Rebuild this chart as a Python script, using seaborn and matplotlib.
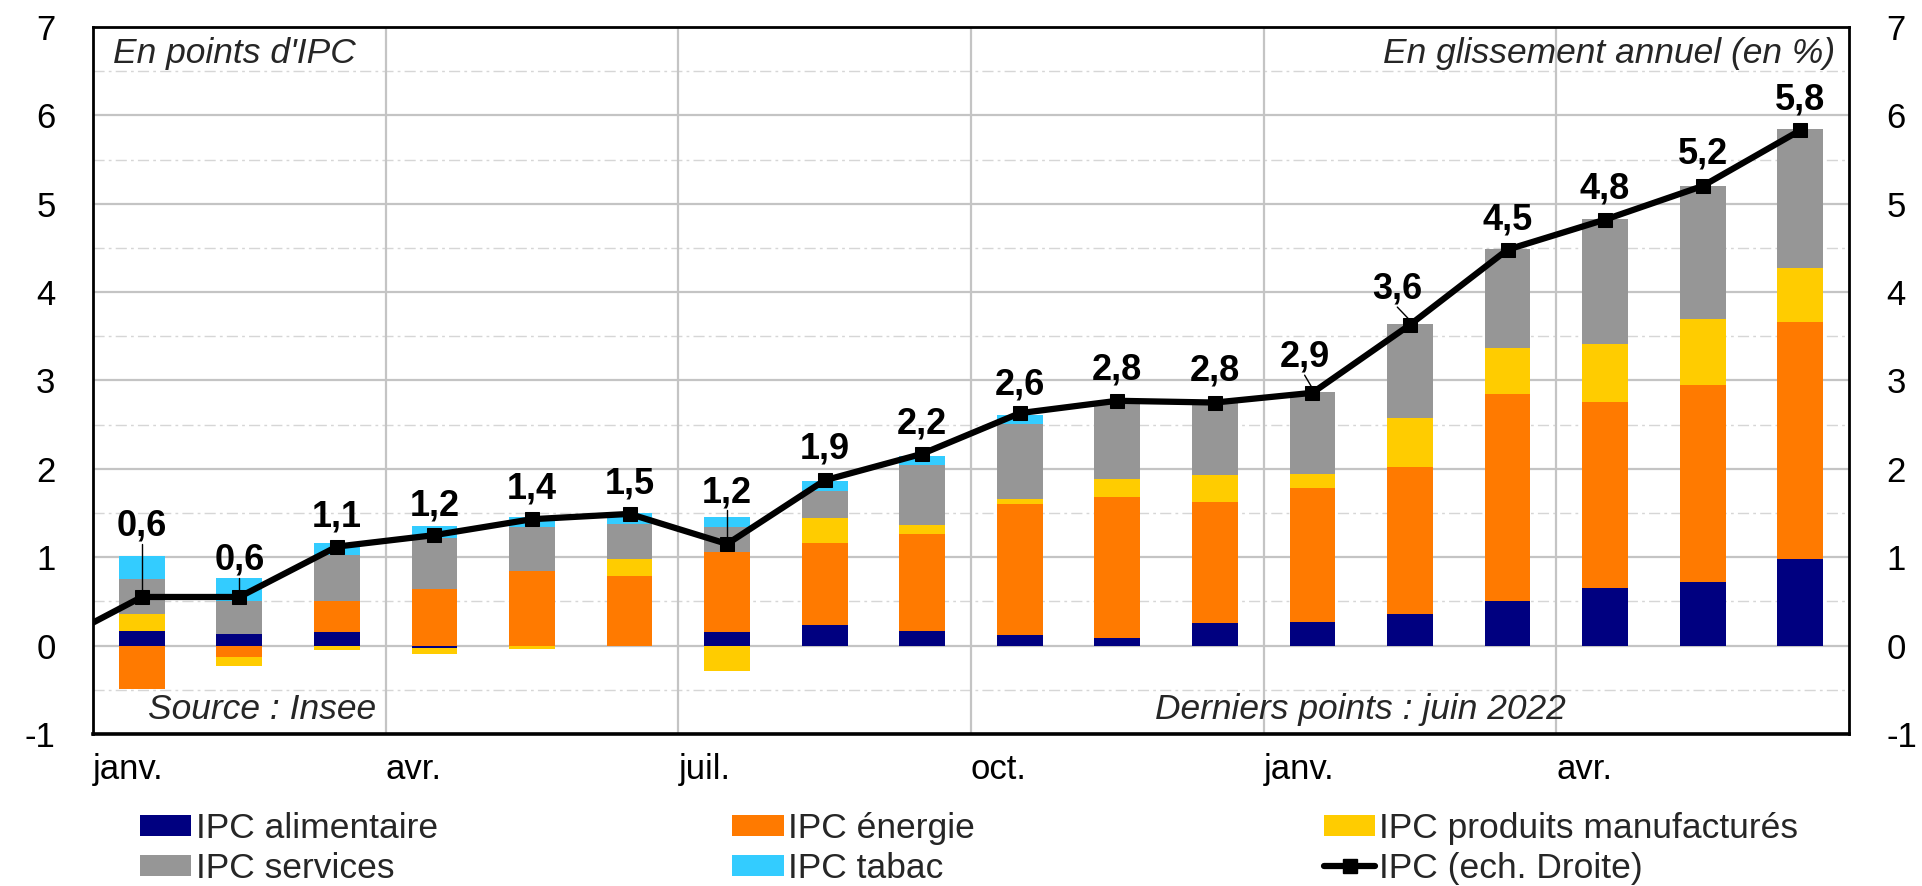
import numpy as np
import matplotlib
matplotlib.use("Agg")
import matplotlib.pyplot as plt
import seaborn as sns
import pandas as pd
from matplotlib.patches import Patch
from matplotlib.lines import Line2D

# ---------------- data ----------------
months = ["2021-01", "2021-02", "2021-03", "2021-04", "2021-05", "2021-06",
          "2021-07", "2021-08", "2021-09", "2021-10", "2021-11", "2021-12",
          "2022-01", "2022-02", "2022-03", "2022-04", "2022-05", "2022-06"]
alimentaire = [0.16, 0.13, 0.15, -0.03, -0.01, -0.01, 0.15, 0.23, 0.17, 0.12, 0.09, 0.25,
               0.27, 0.36, 0.50, 0.65, 0.72, 0.98]
energie = [-0.49, -0.13, 0.36, 0.64, 0.84, 0.79, 0.91, 0.93, 1.09, 1.48, 1.59, 1.38,
           1.51, 1.66, 2.35, 2.11, 2.23, 2.68]
manufactures = [0.20, -0.10, -0.05, -0.06, -0.03, 0.19, -0.29, 0.28, 0.11, 0.06, 0.20, 0.30,
                0.16, 0.56, 0.52, 0.65, 0.74, 0.61]
services = [0.39, 0.37, 0.52, 0.58, 0.50, 0.40, 0.28, 0.31, 0.67, 0.85, 0.89, 0.83,
            0.93, 1.06, 1.12, 1.42, 1.51, 1.58]
tabac = [0.26, 0.27, 0.13, 0.13, 0.11, 0.12, 0.12, 0.11, 0.11, 0.10, 0.00, 0.00,
         0.00, 0.00, 0.00, 0.00, 0.00, 0.00]
ipc = [0.55, 0.55, 1.12, 1.25, 1.43, 1.49, 1.15, 1.87, 2.17, 2.63, 2.77, 2.75,
       2.86, 3.63, 4.48, 4.82, 5.20, 5.83]
ipc_prev = -0.03  # déc. 2020 (point hors cadre, la courbe en part)
ipc_labels = ["0,6", "0,6", "1,1", "1,2", "1,4", "1,5", "1,2", "1,9", "2,2", "2,6",
              "2,8", "2,8", "2,9", "3,6", "4,5", "4,8", "5,2", "5,8"]
xtick_labels = ["janv.", "avr.", "juil.", "oct.", "janv.", "avr."]
series_names = ["IPC alimentaire", "IPC énergie", "IPC produits manufacturés",
                "IPC services", "IPC tabac"]
line_name = "IPC (ech. Droite)"

# ---------------- styles ----------------
colors = ["#000080", "#FF7A00", "#FFCC00", "#969696", "#33CCFF"]
label_dy = [0.80, 0.42, 0.34, 0.33, 0.34, 0.34, 0.58, 0.35, 0.34, 0.32,
            0.35, 0.36, 0.40, 0.40, 0.34, 0.35, 0.36, 0.34]
label_dx = [0, 0, 0, 0, 0, 0, 0, 0, 0, 0, 0, 0, -0.08, -0.13, 0, 0, 0, 0]
leader = [True, True, False, False, False, False, True, False, False, False,
          False, False, True, True, False, False, False, False]

sns.set_theme(style="white")
plt.rcParams['font.family'] = ['Liberation Sans', 'DejaVu Sans']

fig = plt.figure(figsize=(19.22, 8.86), dpi=100)
ax = fig.add_axes([0.0484, 0.1716, 0.9136, 0.798])

n = len(months)
x = np.arange(n)
width = 0.47
pos_base = np.zeros(n)
neg_base = np.zeros(n)
for vals, col in zip([alimentaire, energie, manufactures, services, tabac], colors):
    v = np.array(vals, dtype=float)
    p = np.where(v > 0, v, 0.0)
    q = np.where(v < 0, v, 0.0)
    ax.bar(x, p, width, bottom=pos_base, color=col, linewidth=0, zorder=3)
    ax.bar(x, q, width, bottom=neg_base, color=col, linewidth=0, zorder=3)
    pos_base += p
    neg_base += q

ax.set_xlim(-0.5, 17.5)
ax.set_ylim(-1, 7)

# grid
for yv in range(-1, 8):
    ax.axhline(yv, color="#c4c4c4", lw=1.6, zorder=0)
for yv in np.arange(-0.5, 7, 1.0):
    ax.axhline(yv, color="#d6d6d6", lw=1.0, ls=(0, (8, 3, 2, 3)), zorder=0)
for xv in [2.5, 5.5, 8.5, 11.5, 14.5]:
    ax.axvline(xv, color="#c4c4c4", lw=1.6, zorder=0)

ax.set_xticks([-0.5, 2.5, 5.5, 8.5, 11.5, 14.5])
ax.set_xticklabels(xtick_labels, ha="left")
ax.set_yticks(range(-1, 8))
ax.set_yticklabels([str(v) for v in range(-1, 8)])
ax.tick_params(axis="both", length=0, labelsize=25, labelcolor="black")
ax.tick_params(axis="y", pad=27)
ax.tick_params(axis="x", pad=14)
for s in ax.spines.values():
    s.set_color("black")
    s.set_linewidth(2)
ax.spines["bottom"].set_linewidth(2.6)

# line on right axis
ax2 = ax.twinx()
ax2.set_ylim(-1, 7)
ax2.set_position(ax.get_position())
line_df = pd.DataFrame({"x": np.concatenate([[-1], x]), "ipc": [ipc_prev] + ipc})
sns.lineplot(data=line_df, x="x", y="ipc", ax=ax2, color="black", lw=4.5,
             marker="s", markersize=10, markeredgecolor="black", zorder=5)
ax2.set_xlim(-0.5, 17.5)
ax2.set_ylabel("")
ax2.set_xlabel("")
ax.set_xlabel("")
ax2.set_yticks(range(-1, 8))
ax2.set_yticklabels([str(v) for v in range(-1, 8)])
ax2.tick_params(axis="y", length=0, labelsize=25, pad=27, labelcolor="black")
for s in ax2.spines.values():
    s.set_visible(False)

for i in range(n):
    ly = ipc[i] + label_dy[i]
    lx = x[i] + label_dx[i]
    ax2.text(lx, ly, ipc_labels[i], ha="center", va="center", fontsize=26,
             fontweight="bold", color="black", zorder=6)
    if leader[i]:
        ax2.plot([lx, x[i]], [ly - 0.2, ipc[i] + 0.05],
                 color="black", lw=1, zorder=4)

# annotations
ax.text(0.0114, 0.963, "En points d'IPC", transform=ax.transAxes, fontsize=25.5,
        style="italic", ha="left", va="center")
ax.text(0.992, 0.963, "En glissement annuel (en %)", transform=ax.transAxes, fontsize=25.5,
        style="italic", ha="right", va="center")
ax.text(0.0313, 0.034, "Source : Insee", transform=ax.transAxes, fontsize=25.5,
        style="italic", ha="left", va="center")
ax.text(0.722, 0.034, "Derniers points : juin 2022", transform=ax.transAxes, fontsize=25.5,
        style="italic", ha="center", va="center")

# legend in three columns
patches = [Patch(facecolor=c, edgecolor="none") for c in colors]
line_handle = Line2D([], [], color="black", lw=4.5, marker="s", markersize=10)
cols = [([patches[0], patches[3]], [series_names[0], series_names[3]], 0.0728),
        ([patches[1], patches[4]], [series_names[1], series_names[4]], 0.3810),
        ([patches[2], line_handle], [series_names[2], line_name], 0.6888)]
for hs, ls, xpos in cols:
    fig.legend(hs, ls, loc="upper left", bbox_to_anchor=(xpos, 0.0835), frameon=False,
               fontsize=25.5, handlelength=1.45, handleheight=0.56, handletextpad=0.12,
               labelspacing=0.2, borderpad=0, borderaxespad=0)

fig.savefig("out.png", dpi=100)
